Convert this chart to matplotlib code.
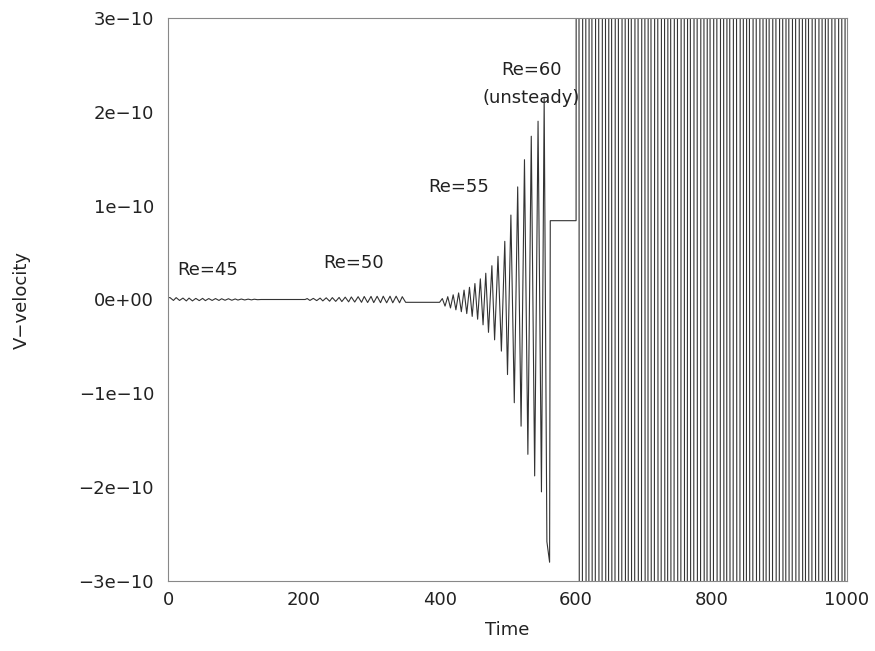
import matplotlib
matplotlib.use("Agg")
from matplotlib import pyplot as plt
import numpy as np

plt.rcParams['font.family'] = ['DejaVu Sans']

# extrema of the trace, values in units of 1e-10
re45_t = [0, 3, 8, 12, 17, 22, 27, 31, 36, 41, 46, 51, 55, 60, 65, 70, 75, 79, 84, 89,
          94, 99, 103, 108, 113, 118, 123, 127, 132, 137, 202]
re45_v = [0.02, 0.02, -0.01, 0.02, -0.01, 0.015, -0.015, 0.015, -0.015, 0.012,
          -0.012, 0.012, -0.012, 0.01, -0.01, 0.01, -0.01, 0.008, -0.008, 0.008,
          -0.008, 0.006, -0.006, 0.005, -0.005, 0.004, -0.004, 0.003, -0.002, 0.0, 0.0]

re50_t = [205, 209, 214, 219, 224, 228, 233, 238, 242, 247, 252, 256, 261, 266, 270,
          275, 280, 285, 289, 294, 299, 303, 308, 313, 317, 322, 327, 331, 336, 341,
          345, 350, 355, 397]
re50_v = [0.01, -0.01, 0.012, -0.012, 0.015, -0.015, 0.018, -0.018, 0.02, -0.02,
          0.022, -0.022, 0.025, -0.025, 0.027, -0.027, 0.03, -0.03, 0.032, -0.032,
          0.033, -0.033, 0.034, -0.034, 0.035, -0.035, 0.035, -0.035, 0.035, -0.035,
          0.03, -0.03, -0.03, -0.03]

re55_t = [400, 404, 408, 412, 416, 420, 424, 428, 432, 436, 440, 444, 448, 452, 456,
          460, 464, 468, 472, 477, 481, 486, 491, 496, 500, 505, 510, 515, 520, 525,
          530, 535, 540, 545, 550, 554, 558, 562, 563, 601]
re55_v = [-0.03, 0.01, -0.07, 0.03, -0.09, 0.05, -0.11, 0.07, -0.13, 0.10,
          -0.15, 0.13, -0.18, 0.17, -0.21, 0.22, -0.27, 0.28, -0.35, 0.36,
          -0.43, 0.46, -0.55, 0.62, -0.80, 0.90, -1.10, 1.20, -1.35, 1.49,
          -1.65, 1.74, -1.88, 1.90, -2.05, 2.14, -2.58, -2.8, 0.84, 0.84]

# Re=60 swings far beyond the plotted range
re60_t = [603, 608, 613, 618, 622, 627, 632, 637, 642, 647, 651, 656, 661, 666, 671,
          676, 680, 685, 690, 695, 700, 705, 709, 714, 719, 724, 729, 734, 738, 743,
          748, 753, 758, 763, 767, 772, 777, 782, 787, 792, 796, 801, 806, 811, 816,
          821, 825, 830, 835, 840, 845, 850, 854, 859, 864, 869, 874, 879, 883, 888,
          893, 898, 903, 908, 912, 917, 922, 927, 932, 937, 941, 946, 951, 956, 961,
          966, 970, 975, 980, 985, 990, 995, 999]
re60_v = [40, -40, 40, -40, 40, -40, 40, -40, 40, -40,
          40, -40, 40, -40, 40, -40, 40, -40, 40, -40,
          40, -40, 40, -40, 40, -40, 40, -40, 40, -40,
          40, -40, 40, -40, 40, -40, 40, -40, 40, -40,
          40, -40, 40, -40, 40, -40, 40, -40, 40, -40,
          40, -40, 40, -40, 40, -40, 40, -40, 40, -40,
          40, -40, 40, -40, 40, -40, 40, -40, 40, -40,
          40, -40, 40, -40, 40, -40, 40, -40, 40, -40,
          40, -40, 40]

ytick_vals = [-3e-10, -2e-10, -1e-10, 0, 1e-10, 2e-10, 3e-10]
ytick_labels = ["\u22123e\u221210", "\u22122e\u221210", "\u22121e\u221210", "0e+00",
                "1e\u221210", "2e\u221210", "3e\u221210"]
xtick_vals = [0, 200, 400, 600, 800, 1000]

t = np.array(re45_t + re50_t + re55_t + re60_t, dtype=float)
v = np.array(re45_v + re50_v + re55_v + re60_v) * 1e-10

fig = plt.figure(figsize=(8.75, 6.51), dpi=100)
ax = fig.add_axes([168 / 875, 70 / 651, 679 / 875, 563 / 651])

ax.plot(t, v, color="#333333", lw=0.8)

ax.set_xlim(0, 1000)
ax.set_ylim(-3e-10, 3e-10)
ax.set_xticks(xtick_vals)
ax.set_yticks(ytick_vals)
ax.set_yticklabels(ytick_labels)
ax.tick_params(length=0, labelsize=13, colors="#222222")
ax.tick_params(axis="y", pad=10)
ax.tick_params(axis="x", pad=7)
for s in ax.spines.values():
    s.set_color("#888888")
    s.set_linewidth(0.8)

fs = 13
ax.text(13, 0.31e-10, "Re=45", fontsize=fs, va="center", color="#222222")
ax.text(228, 0.39e-10, "Re=50", fontsize=fs, va="center", color="#222222")
ax.text(384, 1.2e-10, "Re=55", fontsize=fs, va="center", color="#222222")
ax.text(535, 2.45e-10, "Re=60", fontsize=fs, va="center", ha="center", color="#222222")
ax.text(535, 2.15e-10, "(unsteady)", fontsize=fs, va="center", ha="center", color="#222222")

fig.text(22 / 875, 1 - 300 / 651, "V\u2212velocity", rotation=90, fontsize=fs,
         va="center", ha="center", color="#222222")
fig.text(507 / 875, 1 - 630 / 651, "Time", fontsize=fs, va="center", ha="center",
         color="#222222")

fig.savefig("out.png", dpi=100)
